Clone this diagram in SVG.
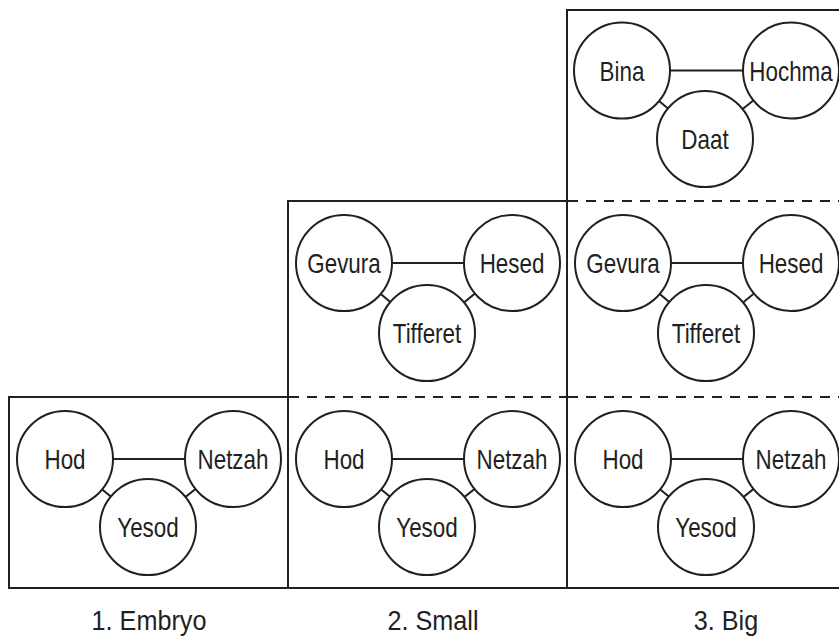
<svg xmlns="http://www.w3.org/2000/svg" width="839" height="637" viewBox="0 0 839 637">
<style>
.frame{fill:none;stroke:#231f20;stroke-width:2}
.dash{fill:none;stroke:#231f20;stroke-width:2;stroke-dasharray:10 8}
.edge{stroke:#231f20;stroke-width:2}
.node circle{fill:#fff;stroke:#231f20;stroke-width:2}
.node text{font-family:"Liberation Sans",Arial,sans-serif;font-size:27px;fill:#231f20;text-anchor:middle}
.lbl{font-family:"Liberation Sans",Arial,sans-serif;font-size:28px;fill:#231f20;text-anchor:middle}
</style>
<rect width="839" height="637" fill="#fff"/>
<g id="frames">
<rect class="frame" x="9" y="397" width="279" height="191"/>
<rect class="frame" x="288" y="201" width="279" height="387"/>
<rect class="frame" x="567" y="10" width="279" height="578"/>
<line class="dash" x1="289" y1="397" x2="566" y2="397"/>
<line class="dash" x1="568" y1="201" x2="846" y2="201"/>
<line class="dash" x1="568" y1="397" x2="846" y2="397"/>
</g>
<g id="connectors">
<line class="edge" x1="65" y1="459" x2="233" y2="459"/>
<line class="edge" x1="65" y1="459" x2="148" y2="527"/>
<line class="edge" x1="233" y1="459" x2="148" y2="527"/>
<line class="edge" x1="344" y1="263" x2="512" y2="263"/>
<line class="edge" x1="344" y1="263" x2="427" y2="333"/>
<line class="edge" x1="512" y1="263" x2="427" y2="333"/>
<line class="edge" x1="344" y1="459" x2="512" y2="459"/>
<line class="edge" x1="344" y1="459" x2="427" y2="527"/>
<line class="edge" x1="512" y1="459" x2="427" y2="527"/>
<line class="edge" x1="622" y1="70.5" x2="791" y2="70.5"/>
<line class="edge" x1="622" y1="70.5" x2="705" y2="139"/>
<line class="edge" x1="791" y1="70.5" x2="705" y2="139"/>
<line class="edge" x1="623" y1="263" x2="791" y2="263"/>
<line class="edge" x1="623" y1="263" x2="706" y2="333"/>
<line class="edge" x1="791" y1="263" x2="706" y2="333"/>
<line class="edge" x1="623" y1="459" x2="791" y2="459"/>
<line class="edge" x1="623" y1="459" x2="706" y2="527"/>
<line class="edge" x1="791" y1="459" x2="706" y2="527"/>
</g>
<g id="c1-hod" class="node"><circle cx="65" cy="459" r="48"/><text transform="translate(65,469) scale(0.83,1)">Hod</text></g>
<g id="c1-netzah" class="node"><circle cx="233" cy="459" r="48"/><text transform="translate(233,469) scale(0.83,1)">Netzah</text></g>
<g id="c1-yesod" class="node"><circle cx="148" cy="527" r="48"/><text transform="translate(148,537) scale(0.83,1)">Yesod</text></g>
<g id="c2-gevura" class="node"><circle cx="344" cy="263" r="48"/><text transform="translate(344,273) scale(0.83,1)">Gevura</text></g>
<g id="c2-hesed" class="node"><circle cx="512" cy="263" r="48"/><text transform="translate(512,273) scale(0.83,1)">Hesed</text></g>
<g id="c2-tifferet" class="node"><circle cx="427" cy="333" r="48"/><text transform="translate(427,343) scale(0.83,1)">Tifferet</text></g>
<g id="c2-hod" class="node"><circle cx="344" cy="459" r="48"/><text transform="translate(344,469) scale(0.83,1)">Hod</text></g>
<g id="c2-netzah" class="node"><circle cx="512" cy="459" r="48"/><text transform="translate(512,469) scale(0.83,1)">Netzah</text></g>
<g id="c2-yesod" class="node"><circle cx="427" cy="527" r="48"/><text transform="translate(427,537) scale(0.83,1)">Yesod</text></g>
<g id="c3-bina" class="node"><circle cx="622" cy="70.5" r="48"/><text transform="translate(622,80.5) scale(0.83,1)">Bina</text></g>
<g id="c3-hochma" class="node"><circle cx="791" cy="70.5" r="48"/><text transform="translate(791,80.5) scale(0.83,1)">Hochma</text></g>
<g id="c3-daat" class="node"><circle cx="705" cy="139" r="48"/><text transform="translate(705,149) scale(0.83,1)">Daat</text></g>
<g id="c3-gevura" class="node"><circle cx="623" cy="263" r="48"/><text transform="translate(623,273) scale(0.83,1)">Gevura</text></g>
<g id="c3-hesed" class="node"><circle cx="791" cy="263" r="48"/><text transform="translate(791,273) scale(0.83,1)">Hesed</text></g>
<g id="c3-tifferet" class="node"><circle cx="706" cy="333" r="48"/><text transform="translate(706,343) scale(0.83,1)">Tifferet</text></g>
<g id="c3-hod" class="node"><circle cx="623" cy="459" r="48"/><text transform="translate(623,469) scale(0.83,1)">Hod</text></g>
<g id="c3-netzah" class="node"><circle cx="791" cy="459" r="48"/><text transform="translate(791,469) scale(0.83,1)">Netzah</text></g>
<g id="c3-yesod" class="node"><circle cx="706" cy="527" r="48"/><text transform="translate(706,537) scale(0.83,1)">Yesod</text></g>
<g id="labels">
<text class="lbl" transform="translate(149,630) scale(0.9,1)">1. Embryo</text>
<text class="lbl" transform="translate(433,630) scale(0.9,1)">2. Small</text>
<text class="lbl" transform="translate(726,630) scale(0.9,1)">3. Big</text>
</g>
</svg>
